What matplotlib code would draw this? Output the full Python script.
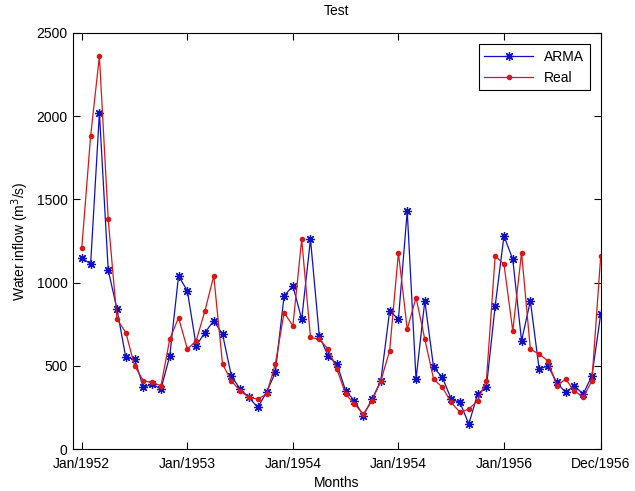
import numpy as np
import matplotlib.pyplot as plt

plt.rcParams['font.family'] = ['Liberation Sans', 'DejaVu Sans']

# monthly water inflow, Jan/1952 .. Dec/1956
months = np.arange(1, 61)
arma = [1150, 1110, 2020, 1075, 840, 550, 540, 370, 390, 360, 560, 1040,
        950, 620, 700, 770, 690, 440, 360, 310, 250, 340, 460, 920,
        980, 780, 1260, 680, 560, 510, 350, 290, 200, 300, 410, 830,
        780, 1430, 420, 890, 490, 430, 300, 280, 150, 330, 370, 860,
        1280, 1140, 650, 890, 480, 500, 400, 340, 380, 330, 440, 810]
real = [1210, 1880, 2360, 1380, 780, 700, 500, 410, 400, 380, 660, 790,
        600, 650, 830, 1040, 510, 410, 350, 310, 300, 330, 510, 820,
        740, 1260, 670, 660, 600, 480, 330, 270, 210, 290, 410, 590,
        1180, 720, 910, 660, 420, 370, 280, 220, 240, 290, 410, 1160,
        1110, 710, 1180, 600, 570, 530, 380, 420, 350, 310, 410, 1160]

tick_pos = [1, 13, 25, 37, 49, 60]
tick_labels = ['Jan/1952', 'Jan/1953', 'Jan/1954', 'Jan/1954', 'Jan/1956', 'Dec/1956']

fig = plt.figure(figsize=(6.35, 4.91), dpi=100)
ax = fig.add_axes([0.115, 0.0855, 0.831, 0.8475])

ax.plot(months, arma, color='#1010c8', lw=0.9, marker=(8, 2, 0), ms=6.5,
        mew=0.9, label='ARMA')
ax.plot(months, real, color='#d81818', lw=0.9, marker='.', ms=6,
        label='Real')

ax.set_xlim(0, 60)
ax.set_ylim(0, 2500)
ax.set_xticks(tick_pos)
ax.set_xticklabels(tick_labels)
ax.set_yticks(np.arange(0, 2501, 500))
ax.tick_params(direction='in', top=True, right=True, labelsize=10, length=5)
ax.tick_params(axis='x', pad=6)
ax.tick_params(axis='y', pad=4)
for s in ax.spines.values():
    s.set_linewidth(0.8)

ax.set_title('Test', fontsize=10, pad=13)
ax.set_xlabel('Months', fontsize=10, labelpad=3)
ax.set_ylabel('Water inflow (m$^3$/s)', fontsize=10)

leg = ax.legend(loc='upper right', fontsize=10, fancybox=False,
                edgecolor='black', framealpha=1, handlelength=3.5,
                borderaxespad=0.8)
leg.get_frame().set_linewidth(0.8)

fig.savefig('out.png', dpi=100)
